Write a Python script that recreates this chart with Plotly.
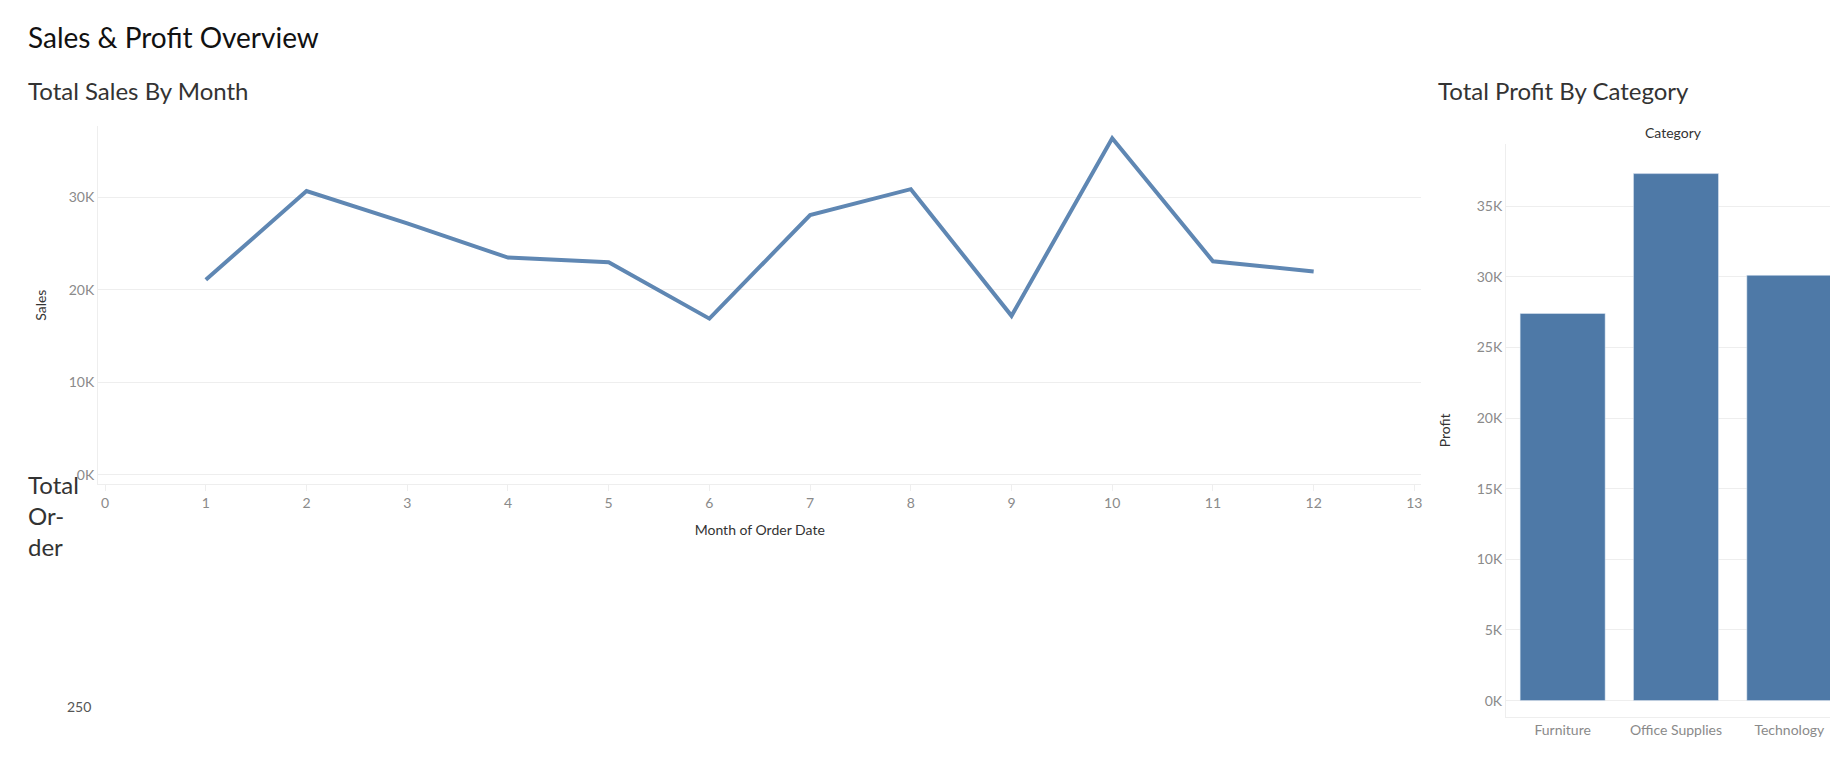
import plotly.graph_objects as go

# Données
months = [1, 2, 3, 4, 5, 6, 7, 8, 9, 10, 11, 12]
sales = [21100, 30700, 27200, 23500, 23000, 16900, 28100, 30900, 17200, 36400, 23100, 22000]
categories = ["Furniture", "Office Supplies", "Technology"]
profit = [27400, 37300, 30100]

BLUE_LINE = "#5f87b3"
BLUE_BAR = "#4e79a7"
GRID = "#eeeeee"
TICK = "#8a8a8a"
FONT = "Lato"

fig = go.Figure()

fig.add_trace(go.Scatter(x=months, y=sales, mode="lines",
                         line=dict(color=BLUE_LINE, width=4), showlegend=False,
                         xaxis="x", yaxis="y"))
fig.add_trace(go.Bar(x=categories, y=profit, marker_color=BLUE_BAR, width=0.75,
                     showlegend=False, xaxis="x2", yaxis="y2"))

tick_font = dict(family=FONT, size=14, color=TICK)

fig.update_layout(
    width=1838, height=768,
    margin=dict(l=0, r=0, t=0, b=0),
    paper_bgcolor="white", plot_bgcolor="white",
    font=dict(family=FONT),
    xaxis=dict(domain=[0.049, 0.769], range=[-0.07, 13.07], tickvals=list(range(14)),
               showgrid=False, zeroline=False, showline=True, linecolor=GRID,
               ticks="outside", tickcolor=GRID, ticklen=6, tickfont=tick_font,
               title=dict(text="Month of Order Date", font=dict(family=FONT, size=14, color="#333"))),
    yaxis=dict(domain=[0.38, 0.846], range=[-1000, 37700], tickvals=[0, 10000, 20000, 30000],
               ticktext=["0K", "10K", "20K", "30K"], gridcolor=GRID, zeroline=False,
               showline=True, linecolor=GRID, tickfont=tick_font,
               title=dict(text="Sales", font=dict(family=FONT, size=14, color="#333"), standoff=18)),
    xaxis2=dict(domain=[0.815, 1.0], anchor="y2", showgrid=False, showline=True, linecolor=GRID,
                tickfont=tick_font, side="bottom"),
    yaxis2=dict(domain=[0.077, 0.823], anchor="x2", range=[-1150, 39400],
                tickvals=[0, 5000, 10000, 15000, 20000, 25000, 30000, 35000],
                ticktext=["0K", "5K", "10K", "15K", "20K", "25K", "30K", "35K"],
                gridcolor=GRID, zeroline=False, showline=True, linecolor=GRID, tickfont=tick_font,
                title=dict(text="Profit", font=dict(family=FONT, size=14, color="#333"), standoff=22)),
    annotations=[
        dict(text="Sales & Profit Overview", x=0.010, y=0.962, xref="paper", yref="paper",
             xanchor="left", yanchor="middle", showarrow=False,
             font=dict(family=FONT, size=28, color="#111")),
        dict(text="Total Sales By Month", x=0.010, y=0.893, xref="paper", yref="paper",
             xanchor="left", yanchor="middle", showarrow=False,
             font=dict(family=FONT, size=24, color="#333")),
        dict(text="Total Profit By Category", x=0.777, y=0.893, xref="paper", yref="paper",
             xanchor="left", yanchor="middle", showarrow=False,
             font=dict(family=FONT, size=24, color="#333")),
        dict(text="Category", x=0.906, y=0.838, xref="paper", yref="paper",
             xanchor="center", yanchor="middle", showarrow=False,
             font=dict(family=FONT, size=14, color="#333")),
        dict(text="Total<br>Or-<br>der", x=0.010, y=0.195 + 0.045 * 3.2, xref="paper", yref="paper",
             xanchor="left", yanchor="middle", align="left", showarrow=False,
             font=dict(family=FONT, size=24, color="#333")),
        dict(text="250", x=0.031, y=0.091, xref="paper", yref="paper",
             xanchor="left", yanchor="middle", showarrow=False,
             font=dict(family=FONT, size=14, color="#555")),
    ],
)

fig.write_html("out.html")
